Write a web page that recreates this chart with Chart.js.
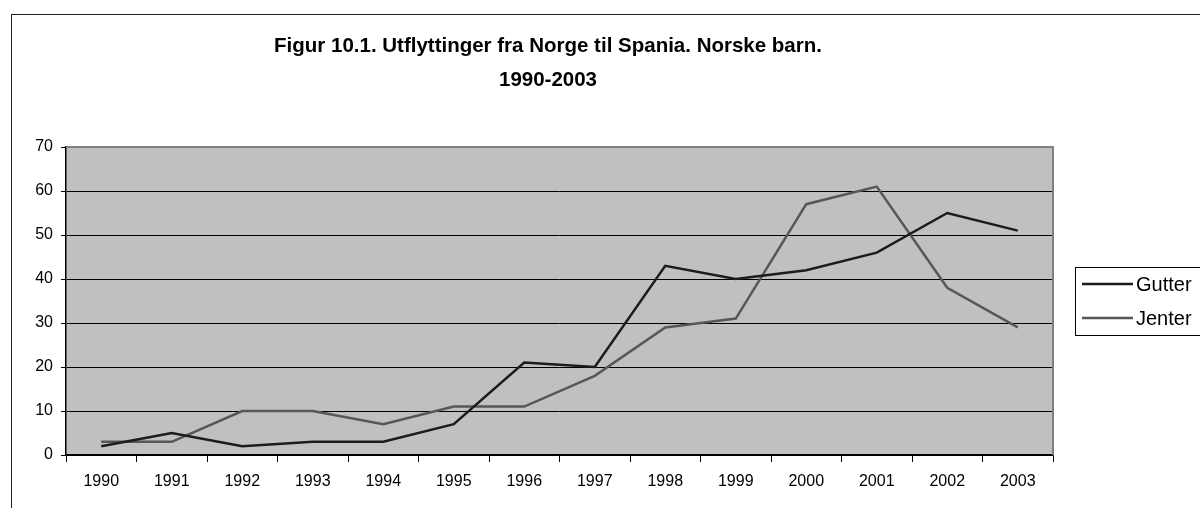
<!DOCTYPE html>
<html>
<head>
<meta charset="utf-8">
<script src="https://cdn.jsdelivr.net/npm/chart.js@4"></script>
<style>
  html, body { margin: 0; padding: 0; background: #fff; }
  #wrap { width: 1200px; height: 508px; position: relative; }
</style>
</head>
<body>
<div id="wrap"><canvas id="chart" width="1200" height="508"></canvas></div>
<script>
const years = ["1990", "1991", "1992", "1993", "1994", "1995", "1996", "1997", "1998", "1999", "2000", "2001", "2002", "2003"];
const gutter = [2, 5, 2, 3, 3, 7, 21, 20, 43, 40, 42, 46, 55, 51];
const jenter = [3, 3, 10, 10, 7, 11, 11, 18, 29, 31, 57, 61, 38, 29];
const titleLines = ["Figur 10.1. Utflyttinger fra Norge til Spania. Norske barn.", "1990-2003"];
const seriesNames = ["Gutter", "Jenter"];
const seriesColors = ["#1c1c1c", "#575757"];

const font = "Arial, 'Liberation Sans', sans-serif";

// frame, plot background, title and legend
const decor = {
    id: "decor",
    beforeDraw(chart) {
        const c = chart.ctx;
        const a = chart.chartArea;
        c.save();
        c.fillStyle = "#fff";
        c.fillRect(0, 0, chart.width, chart.height);
        c.strokeStyle = "#222";
        c.lineWidth = 1;
        c.strokeRect(11.5, 14.5, chart.width + 10, chart.height + 10);
        c.fillStyle = "#c0c0c0";
        c.fillRect(a.left, a.top, a.right - a.left, a.bottom - a.top);
        c.restore();
    },
    afterDraw(chart) {
        const c = chart.ctx;
        const a = chart.chartArea;
        c.save();
        // gray plot border on top and right
        c.strokeStyle = "#808080";
        c.lineWidth = 2;
        c.beginPath();
        c.moveTo(a.left, a.top);
        c.lineTo(a.right, a.top);
        c.lineTo(a.right, a.bottom);
        c.stroke();

        c.fillStyle = "#000";
        c.font = "bold 20.5px " + font;
        c.textAlign = "center";
        c.textBaseline = "middle";
        c.fillText(titleLines[0], 548, 46);
        c.fillText(titleLines[1], 548, 80);

        // legend
        c.fillStyle = "#fff";
        c.fillRect(1075.5, 267.5, 140, 68);
        c.strokeStyle = "#000";
        c.lineWidth = 1;
        c.strokeRect(1075.5, 267.5, 140, 68);
        c.font = "20px " + font;
        c.textAlign = "left";
        seriesNames.forEach((n, i) => {
            const y = 284 + i * 34;
            c.strokeStyle = seriesColors[i];
            c.lineWidth = 2.5;
            c.beginPath();
            c.moveTo(1082, y);
            c.lineTo(1133, y);
            c.stroke();
            c.fillStyle = "#000";
            c.fillText(n, 1136, y + 1);
        });
        c.restore();
    }
};

new Chart(document.getElementById("chart").getContext("2d"), {
    type: "line",
    data: {
        labels: years,
        datasets: [
            { label: seriesNames[0], data: gutter, borderColor: seriesColors[0], borderWidth: 2.5, tension: 0, pointRadius: 0, fill: false },
            { label: seriesNames[1], data: jenter, borderColor: seriesColors[1], borderWidth: 2.5, tension: 0, pointRadius: 0, fill: false }
        ]
    },
    options: {
        responsive: false,
        animation: false,
        layout: { padding: { left: 0, top: 147, right: 147, bottom: 0 } },
        plugins: {
            legend: { display: false },
            title: { display: false },
            tooltip: { enabled: false }
        },
        scales: {
            x: {
                offset: true,
                afterFit: s => { s.height = 53; },
                grid: { offset: true, drawOnChartArea: false, color: "#000", tickLength: 7, lineWidth: 1 },
                border: { display: true, color: "#000", width: 1.5 },
                ticks: { color: "#000", font: { family: font, size: 16 }, padding: 10, maxRotation: 0 }
            },
            y: {
                min: 0,
                max: 70,
                afterFit: s => { s.width = 66; },
                grid: {
                    color: ctx => ctx.tick && ctx.tick.value === 70 ? "rgba(0,0,0,0)" : "#000",
                    tickColor: "#000",
                    tickLength: 5,
                    lineWidth: 1
                },
                border: { display: true, color: "#000", width: 1.5 },
                ticks: { stepSize: 10, color: "#000", font: { family: font, size: 16 }, padding: 8 }
            }
        }
    },
    plugins: [decor]
});
</script>
</body>
</html>
